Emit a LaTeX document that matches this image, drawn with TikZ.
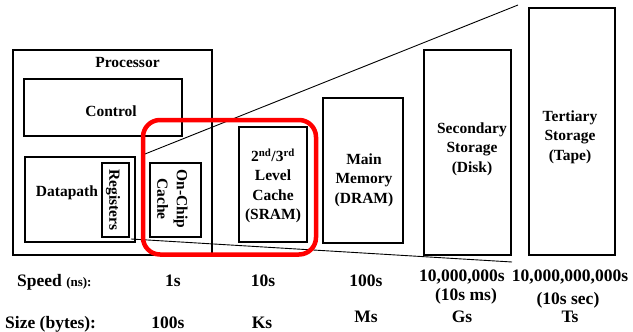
\documentclass[tikz,border=0pt]{standalone}
\usepackage{fontspec}
\setmainfont{Liberation Serif}
\begin{document}
\begin{tikzpicture}[x=1pt,y=-1pt,
  box/.style={draw, line width=1.8pt, inner sep=0pt},
  lbl/.style={font=\fontsize{15.5}{19.5}\selectfont\bfseries, align=center, inner sep=0pt},
  bot/.style={font=\fontsize{17.5}{20}\selectfont\bfseries, inner sep=0pt, anchor=base},
  zoomline/.style={line width=0.9pt},
  hilite/.style={draw=red, line width=4.5pt, rounded corners=17pt, inner sep=0pt}]
\fill[white] (0,0) rectangle (633,332);
\useasboundingbox (0,0) rectangle (633,332);
% boxes
\node[box, minimum width=199pt, minimum height=205pt] (proc) at (112.5,152.5) {};
\node[box, minimum width=158pt, minimum height=57pt] (ctrlbox) at (103,107.5) {};
\node[box, minimum width=110pt, minimum height=85pt] (dpbox) at (80,199.5) {};
\node[box, minimum width=27pt, minimum height=74pt] (regbox) at (115.5,200) {};
\node[box, minimum width=51pt, minimum height=74pt] (ocbox) at (175.5,200) {};
\node[box, minimum width=68pt, minimum height=115pt] (l2box) at (273,184.5) {};
\node[box, minimum width=80pt, minimum height=145pt] (mmbox) at (363,170.5) {};
\node[box, minimum width=87pt, minimum height=205pt] (secbox) at (467.5,152.5) {};
\node[box, minimum width=86pt, minimum height=247pt] (terbox) at (572,131.5) {};
% labels
\node[lbl, anchor=base] (proct) at (127.5,67) {Processor};
\node[lbl, anchor=base] (ctrlt) at (111,116) {Control};
\node[lbl, anchor=base] (dpt) at (67,196) {Datapath};
\node[lbl, rotate=-90] (regt) at (113,200) {Registers};
\node[lbl, rotate=-90] (oct) at (172.5,199) {On-Chip\\Cache};
\node[lbl] (l2t) at (273,186) {2\textsuperscript{nd}/3\textsuperscript{rd}\\Level\\Cache\\(SRAM)};
\node[lbl] (mmt) at (364,180) {Main\\Memory\\(DRAM)};
\node[lbl] (sect) at (472,149) {Secondary\\Storage\\(Disk)};
\node[lbl] (tert) at (570,137) {Tertiary\\Storage\\(Tape)};
% zoom lines
\coordinate (zt0) at (145,154);
\coordinate (zt1) at (518,5);
\coordinate (zb0) at (131,239);
\coordinate (zb1) at (512,262);
\draw[zoomline] (zt0) -- (zt1);
\draw[zoomline] (zb0) -- (zb1);
% highlight
\node[hilite, minimum width=173pt, minimum height=134.5pt] (hl) at (229.5,187.25) {};
% bottom rows
\node[bot, anchor=base west] (speed) at (17,286) {Speed {\fontsize{13}{15}\selectfont(ns):}};
\node[bot] (s1) at (173,286) {1s};
\node[bot] (s2) at (263,286) {10s};
\node[bot] (s3) at (366,286) {100s};
\node[bot] (s4) at (462,281) {10,000,000s};
\node[bot] (s4b) at (466,300) {(10s ms)};
\node[bot] (s5) at (570,281) {10,000,000,000s};
\node[bot] (s5b) at (568,304) {(10s sec)};
\node[bot, anchor=base west] (size) at (5,328) {Size (bytes):};
\node[bot] (z1) at (168,328) {100s};
\node[bot] (z2) at (262,328) {Ks};
\node[bot] (z3) at (366,322) {Ms};
\node[bot] (z4) at (462,322) {Gs};
\node[bot] (z5) at (570,322) {Ts};
\end{tikzpicture}
\end{document}
